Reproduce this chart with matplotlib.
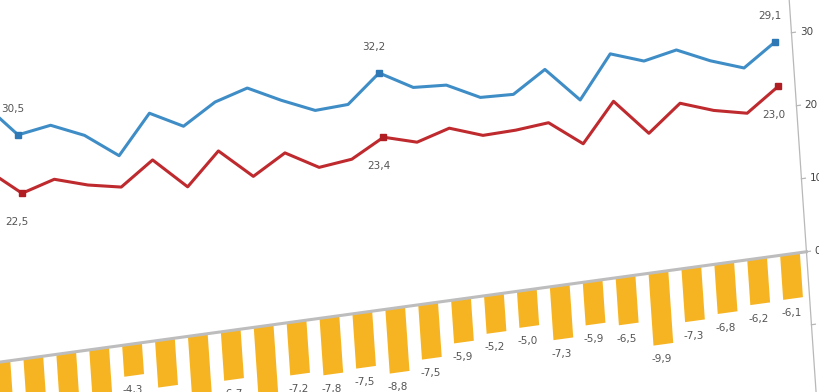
import numpy as np
import matplotlib.pyplot as plt
from matplotlib.transforms import Affine2D

plt.rc('font', size=7.5)

# index 0 is the right-most period (picture is mirrored)
idx = np.arange(25)
blue = [29.1, 26.1, 27.7, 29.8, 28.9, 30.5, 24.8, 29.6, 26.8, 27.0,
        29.3, 29.6, 32.2, 28.5, 28.3, 30.3, 32.6, 31.3, 28.6, 31.0,
        25.8, 29.2, 31.2, 30.5, 35.5]
red = [23.0, 19.9, 20.9, 22.5, 19.0, 24.0, 18.8, 22.3, 21.9, 21.8,
       23.4, 22.1, 23.4, 21.0, 20.5, 23.1, 20.5, 24.6, 20.3, 24.6,
       21.5, 22.4, 23.8, 22.5, 26.3]
bars = [-6.1, -6.2, -6.8, -7.3, -9.9, -6.5, -5.9, -7.3, -5.0, -5.2,
        -5.9, -7.5, -8.8, -7.5, -7.8, -7.2, -12.1, -6.7, -8.3, -6.4,
        -4.3, -6.8, -7.4, -8.0, -9.2]
labelled = [0, 12, 23]
yticks = [30, 20, 10, 0, -10]


def fmt(v):
    return ('%.1f' % v).replace('.', ',')


fig = plt.figure(figsize=(8.2, 3.92), dpi=100)
ax = fig.add_axes([0, 0, 1, 1])
ax.axis('off')

# the photo is taken at an angle: shear the data space
skew = Affine2D(np.array([[1.0, 0.0152, 0.0],
                          [-0.6166, 1.0, 0.0],
                          [0.0, 0.0, 1.0]]))
tr = skew + ax.transData

gray_txt = '#555555'

bc = ax.bar(idx, bars, width=0.6, color='#F6B422', zorder=2)
for p in bc:
    p.set_transform(tr)
for i, v in zip(idx, bars):
    ax.text(i + 0.08, v - 2.0, fmt(v), transform=tr, ha='center', va='center',
            color=gray_txt)

# zero line and the axis
ax.plot([-0.5, 26], [0, 0], transform=tr, color='#bdbdbd', lw=2.2, zorder=3)
ax.plot([-0.5, -0.5], [-20, 40], transform=tr, color='#b8b8b8', lw=0.9, zorder=3)
for t in yticks:
    ax.plot([-0.5, -0.62], [t, t], transform=tr, color='#b8b8b8', lw=0.9)
    ax.text(-0.75, t, str(t), transform=tr, ha='left', va='center', color='#444444')

ax.plot(idx, blue, transform=tr, color='#3F8DC6', lw=2.2, zorder=4)
ax.plot(idx, red, transform=tr, color='#BE2A2E', lw=2.2, zorder=4)
for i in labelled:
    ax.plot(i, blue[i], 's', ms=4, color='#2E78B5', transform=tr, zorder=5)
    ax.plot(i, red[i], 's', ms=4, color='#B01E24', transform=tr, zorder=5)
    ax.text(i + 0.12, blue[i] + 3.6, fmt(blue[i]), transform=tr, ha='center',
            va='center', color=gray_txt)
    ax.text(i + 0.2, red[i] - 3.8, fmt(red[i]), transform=tr, ha='center',
            va='center', color=gray_txt)

ax.set_autoscale_on(False)
ax.set_xlim(790 / 32.9, -30 / 32.9)
ax.set_ylim(-138 / 7.3, 254 / 7.3)

plt.savefig('out.png', dpi=100)
